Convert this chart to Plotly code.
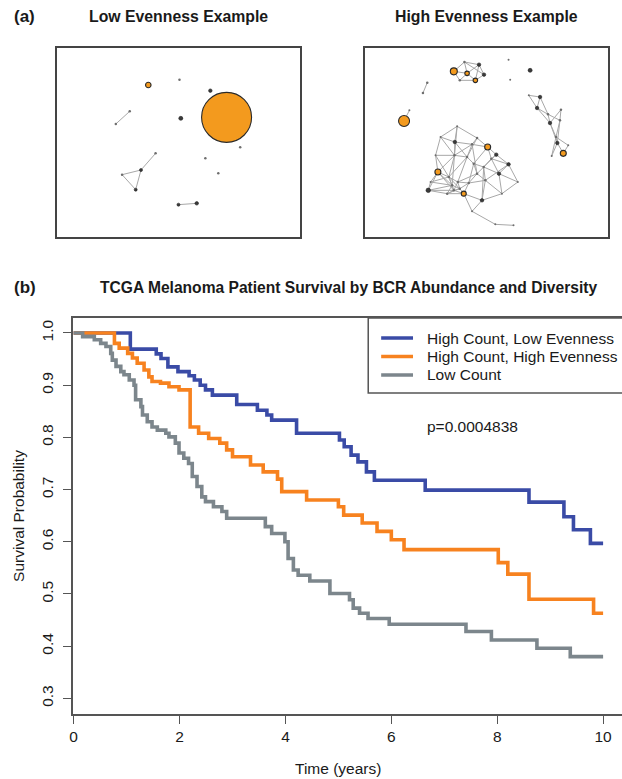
import plotly.graph_objects as go

W, H = 622, 779

# ---------------- Survival data (Kaplan-Meier step points) ----------------
groups = ["High Count, Low Evenness", "High Count, High Evenness", "Low Count"]
colors = ["#3A4BA6", "#F7821F", "#7C868C"]

time_low_even = [0, 1.07, 1.56, 1.65, 1.78, 1.97, 2.18, 2.28, 2.39, 2.49, 2.62, 3.08,
                 3.47, 3.65, 3.74, 4.21, 5.02, 5.11, 5.24, 5.37, 5.53, 5.68, 6.64,
                 8.6, 9.26, 9.44, 9.76, 10.0]
surv_low_even = [1.0, 0.969, 0.960, 0.951, 0.935, 0.926, 0.918, 0.910, 0.900, 0.891,
                 0.881, 0.863, 0.852, 0.843, 0.833, 0.808, 0.795, 0.782, 0.766, 0.753,
                 0.734, 0.718, 0.699, 0.676, 0.648, 0.623, 0.597, 0.597]

time_high_even = [0, 0.77, 0.86, 1.02, 1.11, 1.2, 1.33, 1.42, 1.48, 1.64, 1.80, 1.99,
                  2.2, 2.36, 2.55, 2.76, 2.89, 3.0, 3.34, 3.58, 3.85, 3.93, 4.4, 5.0,
                  5.1, 5.45, 5.73, 6.0, 6.24, 8.02, 8.2, 8.6, 9.82, 10.0]
surv_high_even = [1.0, 0.980, 0.971, 0.961, 0.952, 0.942, 0.929, 0.916, 0.907, 0.904,
                  0.897, 0.891, 0.820, 0.808, 0.798, 0.789, 0.776, 0.763, 0.747, 0.734,
                  0.720, 0.696, 0.680, 0.667, 0.651, 0.636, 0.620, 0.604, 0.585, 0.560,
                  0.538, 0.490, 0.463, 0.463]

time_low_count = [0, 0.17, 0.39, 0.51, 0.61, 0.70, 0.73, 0.80, 0.89, 0.95, 1.05, 1.14,
                  1.17, 1.27, 1.30, 1.39, 1.48, 1.58, 1.74, 1.80, 1.92, 1.99, 2.08,
                  2.17, 2.24, 2.33, 2.42, 2.49, 2.64, 2.80, 2.89, 3.62, 3.74, 3.99,
                  4.05, 4.15, 4.24, 4.46, 4.84, 5.21, 5.28, 5.40, 5.56, 5.96, 7.41,
                  7.89, 8.75, 9.38, 10.0]
surv_low_count = [1.0, 0.993, 0.987, 0.980, 0.974, 0.961, 0.948, 0.936, 0.926, 0.920,
                  0.910, 0.900, 0.872, 0.859, 0.843, 0.830, 0.820, 0.814, 0.808, 0.801,
                  0.789, 0.770, 0.760, 0.750, 0.725, 0.706, 0.686, 0.677, 0.667, 0.658,
                  0.645, 0.629, 0.616, 0.600, 0.568, 0.546, 0.536, 0.525, 0.501, 0.489,
                  0.473, 0.463, 0.453, 0.442, 0.428, 0.412, 0.396, 0.380, 0.380]

x_ticks = [0, 2, 4, 6, 8, 10]
y_ticks = [0.3, 0.4, 0.5, 0.6, 0.7, 0.8, 0.9, 1.0]
p_value_text = "p=0.0004838"

# ---------------- Network data (layout coordinates, node kind, node size) --------
# kinds: o = orange (clone of interest), d = dark node, t = tiny node
low_x = [439, 533, 626, 675, 537, 341, 383, 716, 611, 650, 360, 417, 401, 461, 530, 585]
low_y = [254, 238, 271, 351, 354, 371, 333, 441, 474, 519, 523, 509, 568, 459, 613, 609]
low_kind = ["o", "t", "d", "o", "d", "t", "t", "t", "t", "t", "t", "d", "d", "t", "d", "d"]
low_size = [5.5, 2.5, 3.5, 50, 4, 2.5, 2.5, 2.5, 2.5, 2.5, 2.5, 3, 3, 2.5, 3, 3.5]
low_edges = [(5, 6), (10, 11), (11, 12), (12, 10), (11, 13), (14, 15)]

high_x = [400, 432, 476, 491, 465, 440, 418, 565, 630, 570, 320, 307, 250, 266,
          626, 660, 651, 684, 723, 690, 720, 708, 712, 745, 730, 695,
          410, 470, 403, 360, 345, 402, 455, 502, 528, 513, 565, 536, 593, 352,
          330, 323, 385, 412, 430, 445, 470, 485, 455, 545, 490, 525, 580, 400,
          418, 440, 495, 460, 380, 395]
high_y = [213, 185, 193, 223, 240, 219, 240, 178, 210, 238, 247, 278, 362, 330,
          285, 290, 323, 342, 328, 368, 360, 410, 428, 435, 459, 467,
          378, 413, 425, 410, 465, 465, 432, 440, 463, 475, 492, 520, 545, 515,
          545, 570, 530, 545, 580, 548, 520, 600, 633, 580, 500, 672, 675, 570,
          565, 470, 540, 490, 580, 555]
high_kind = ["o", "t", "d", "d", "o", "o", "t", "t", "d", "t", "t", "t", "o", "t",
             "t", "d", "d", "t", "t", "d", "t", "t", "d", "t", "o", "t",
             "t", "t", "d", "t", "t", "t", "t", "o", "d", "t", "d", "d", "t", "o",
             "t", "d", "t", "t", "o", "t", "t", "d", "t", "t", "t", "t", "t", "t",
             "t", "t", "t", "t", "t", "t"]
high_size = [7, 2.5, 3.5, 3.5, 4.5, 4.5, 2.5, 2, 4, 2, 2.5, 2.5, 11, 2,
             2, 3.5, 3.5, 2.5, 2.5, 3.5, 2.5, 2.5, 3.5, 2, 6, 2,
             2, 2.5, 3.5, 2, 2, 2.5, 2.5, 6, 3.5, 2.5, 3.5, 3.5, 2, 6,
             2, 4.5, 2.5, 2.5, 5, 2.5, 2.5, 3.5, 2, 2, 2.5, 2, 2, 2.5,
             2.5, 2.5, 2.5, 2.5, 2.5, 2.5]
high_edges = [
    (0, 1), (1, 2), (2, 3), (3, 4), (4, 6), (6, 0), (0, 5), (5, 2), (5, 4), (1, 5),
    (6, 5), (2, 4), (1, 3), (10, 11), (12, 13),
    (14, 15), (14, 16), (15, 16), (15, 17), (16, 17), (17, 19), (17, 20), (18, 20),
    (18, 19), (19, 21), (20, 21), (19, 22), (21, 22), (21, 23), (22, 24), (23, 24),
    (22, 25), (21, 25), (20, 22), (16, 19),
    (26, 27), (26, 28), (26, 29), (26, 31), (27, 32), (27, 33), (28, 29), (28, 31),
    (28, 32), (29, 30), (29, 31), (30, 31), (30, 39), (31, 32), (31, 55), (32, 33),
    (32, 55), (33, 34), (33, 35), (34, 35), (34, 36), (35, 36), (35, 37), (36, 37),
    (36, 38), (37, 38), (37, 50), (35, 50), (33, 57), (55, 57), (57, 50), (50, 56),
    (56, 46), (46, 45), (45, 44), (44, 47), (47, 49), (49, 38), (49, 37), (47, 48),
    (48, 51), (51, 52), (39, 40), (39, 42), (39, 41), (40, 41), (41, 58), (58, 53),
    (53, 54), (54, 43), (43, 42), (42, 59), (59, 53), (59, 54), (43, 45), (43, 46),
    (44, 53), (44, 54), (44, 58), (44, 48), (45, 56), (46, 57), (55, 42), (55, 43),
    (31, 42), (31, 59), (32, 46), (57, 45), (50, 47), (56, 47), (30, 42), (41, 53),
    (58, 59), (54, 45), (53, 43), (42, 54), (46, 50), (36, 56), (34, 50), (27, 55),
    (28, 55), (39, 59), (40, 42), (31, 39), (56, 49), (41, 59), (58, 54), (40, 59),
    (42, 53), (39, 53)]

# ---------------- styles ----------------
FONT = "Liberation Sans, Arial, Helvetica, sans-serif"
ORANGE = "#F39A1E"
EDGE = "#A8A8A8"


def px(x):
    return x / W


def py(y):
    return 1 - y / H


fig = go.Figure()

# survival curves
series = [(time_low_even, surv_low_even), (time_high_even, surv_high_even),
          (time_low_count, surv_low_count)]
for (t, s), name, col in zip(series, groups, colors):
    fig.add_trace(go.Scatter(x=t, y=s, mode="lines", line=dict(color=col, width=3.6, shape="hv"),
                             name=name, showlegend=False, xaxis="x", yaxis="y"))


def add_network(xs, ys, kinds, sizes, edges, xa, ya):
    ex, ey = [], []
    for a, b in edges:
        ex += [xs[a], xs[b], None]
        ey += [ys[a], ys[b], None]
    fig.add_trace(go.Scatter(x=ex, y=ey, mode="lines", line=dict(color=EDGE, width=1),
                             showlegend=False, hoverinfo="skip", xaxis=xa, yaxis=ya))
    for kind, fill, lc, lw in [("t", "#6E6E6E", "#6E6E6E", 0), ("d", "#3A3A3A", "#222", 0.6),
                               ("o", ORANGE, "#2A2A2A", 1.1)]:
        idx = [i for i, k in enumerate(kinds) if k == kind]
        fig.add_trace(go.Scatter(x=[xs[i] for i in idx], y=[ys[i] for i in idx], mode="markers",
                                 marker=dict(size=[sizes[i] for i in idx], color=fill, opacity=1,
                                             line=dict(color=lc, width=lw)),
                                 showlegend=False, xaxis=xa, yaxis=ya, cliponaxis=True))


add_network(low_x, low_y, low_kind, low_size, low_edges, "x2", "y2")
add_network(high_x, high_y, high_kind, high_size, high_edges, "x3", "y3")

net_axis = dict(showline=True, mirror=True, linecolor="#444", linewidth=1.5, showticklabels=False,
                ticks="", showgrid=False, zeroline=False, fixedrange=True)

fig.update_layout(
    width=W, height=H, margin=dict(l=0, r=0, t=0, b=0),
    paper_bgcolor="white", plot_bgcolor="white",
    font=dict(family=FONT, size=15.5, color="#1a1a1a"),
    xaxis=dict(domain=[px(70), 1.0], range=[-0.019, 10.357], anchor="y",
               showline=True, mirror=True, linecolor="#555", linewidth=1.5,
               ticks="outside", ticklen=8, tickwidth=1.3, tickcolor="#555",
               tickvals=x_ticks, ticktext=[str(v) for v in x_ticks],
               showgrid=False, zeroline=False, tickfont=dict(size=15.5)),
    yaxis=dict(domain=[py(714), py(318)], range=[0.2701, 1.0287], anchor="x",
               showline=True, mirror=False, linecolor="#555", linewidth=1.5,
               ticks="outside", ticklen=8, tickwidth=1.3, tickcolor="#555",
               tickvals=y_ticks, ticktext=[f"{v:.1f}" for v in y_ticks], tickangle=-90,
               ticklabelstandoff=4,
               showgrid=False, zeroline=False, tickfont=dict(size=15.5)),
    xaxis2=dict(domain=[px(54), px(298)], range=[163, 895], anchor="y2", **net_axis),
    yaxis2=dict(domain=[py(237), py(48)], range=[710, 143], anchor="x2", **net_axis),
    xaxis3=dict(domain=[px(364), px(608)], range=[133, 865], anchor="y3", **net_axis),
    yaxis3=dict(domain=[py(237), py(48)], range=[710, 143], anchor="x3", **net_axis),
)

ann = []


def text(x, y, s, size=15.5, bold=False, xanchor="center", angle=0):
    ann.append(dict(x=px(x), y=py(y), xref="paper", yref="paper", text=f"<b>{s}</b>" if bold else s,
                    showarrow=False, xanchor=xanchor, yanchor="middle", textangle=angle,
                    font=dict(size=size, family=FONT, color="#1a1a1a")))


text(22, 17, "(a)", size=17, bold=True)
text(176, 17, "Low Evenness Example", size=15.8, bold=True)
text(486, 17, "High Evenness Example", size=15.8, bold=True)
text(22, 287, "(b)", size=17, bold=True)
text(347, 287, "TCGA Melanoma Patient Survival by BCR Abundance and Diversity", size=15.6, bold=True)
text(424, 427, p_value_text, xanchor="left")
text(15, 516, "Survival Probability", angle=-90)
text(337, 768, "Time (years)")

shapes = [dict(type="rect", xref="paper", yref="paper", x0=px(367), x1=1.02, y0=py(393), y1=py(318),
               line=dict(color="#555", width=1.5), fillcolor="white", layer="above")]
leg_y = [338, 356.5, 375]
for name, col, ly in zip(groups, colors, leg_y):
    shapes.append(dict(type="line", xref="paper", yref="paper", x0=px(380), x1=px(412), y0=py(ly), y1=py(ly),
                       line=dict(color=col, width=3.6), layer="above"))
    text(424, ly, name, xanchor="left")

fig.update_layout(annotations=ann, shapes=shapes)
fig.write_html("out.html")
